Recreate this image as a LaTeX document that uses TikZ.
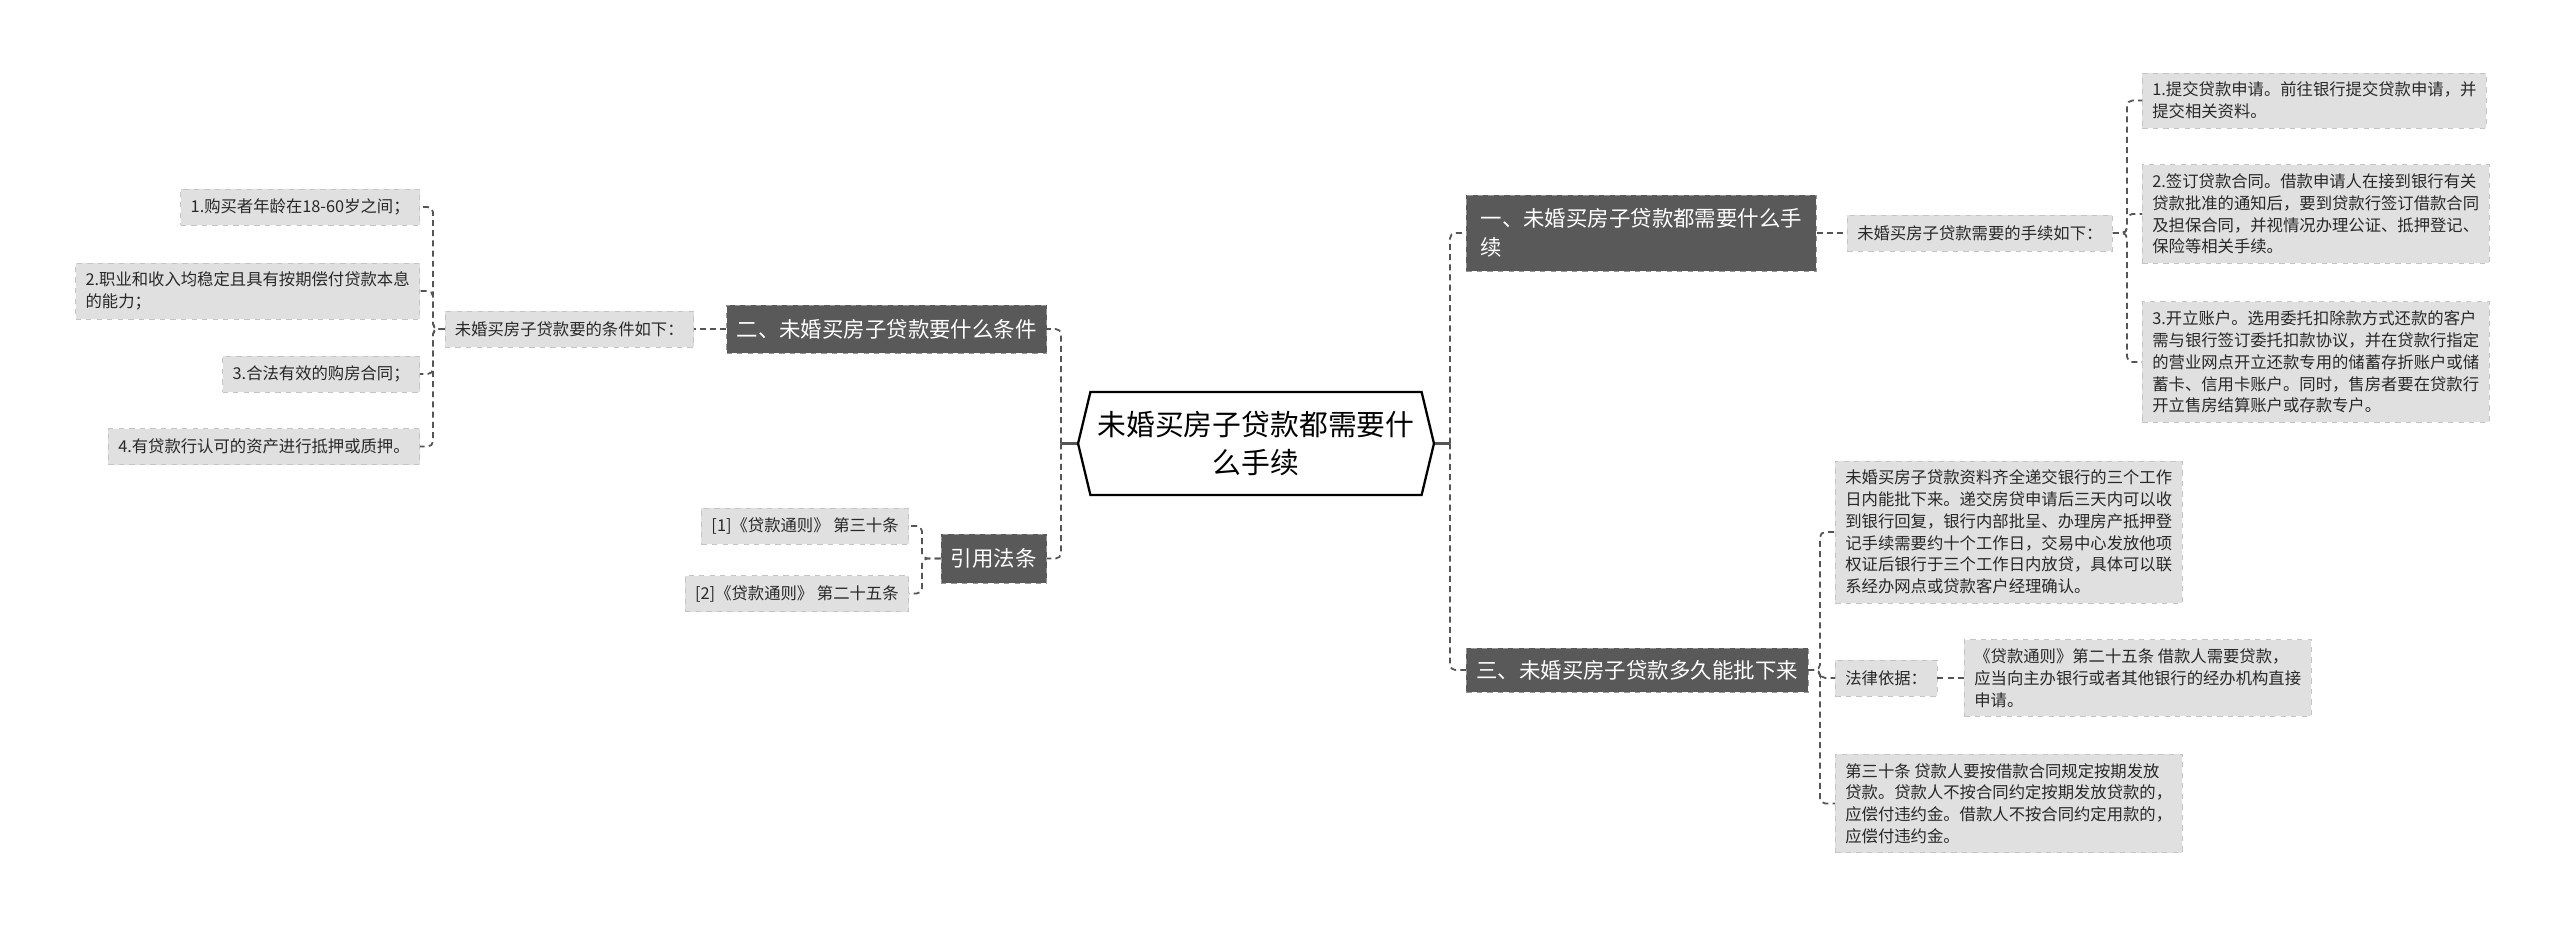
\documentclass[tikz,border=0pt]{standalone}
\usepackage{fontspec}
\setmainfont{Noto Sans CJK SC}
\usetikzlibrary{shapes.symbols}
\definecolor{topicgray}{RGB}{89,89,89}
\definecolor{topicedge}{RGB}{150,150,150}
\definecolor{leafgray}{RGB}{224,224,224}
\definecolor{leafedge}{RGB}{196,196,196}
\definecolor{linkgray}{RGB}{85,85,85}
\definecolor{leaftext}{RGB}{40,40,40}

\begin{document}
\begin{tikzpicture}[x=0.02cm, y=-0.02cm,
    root/.style={signal, signal to=west and east, signal pointer angle=153,
                 draw=black, line width=1.3pt, fill=white,
                 minimum width=7.12cm, minimum height=2.06cm, align=center,
                 font=\fontsize{16.4}{22}\selectfont},
    topic/.style={fill=topicgray, draw=topicedge, dashed, text=white, align=left,
                  inner xsep=0.2cm, inner ysep=0.15cm,
                  font=\fontsize{12.2}{16.7}\selectfont},
    leaf/.style={fill=leafgray, draw=leafedge, dashed, text=leaftext, align=left,
                 inner xsep=0.2cm, inner ysep=0.18cm,
                 font=\fontsize{9.3}{12.4}\selectfont},
    link/.style={draw=linkgray, line width=1pt, dash pattern=on 3.4pt off 2.4pt,
                 rounded corners=3pt},
    stub/.style={draw=linkgray, line width=1.2pt}
  ]
    \fill[white] (0,0) rectangle (2560,927);
    \useasboundingbox (0,0) rectangle (2560,927);

    % centre
    \node[root] (ctr) at (1256,443.5) {未婚买房子贷款都需要什\\么手续};

    % right side
    \node[topic, anchor=west, minimum width=7cm, minimum height=1.52cm] (t1) at (1466,233)
      {一、未婚买房子贷款都需要什么手\\续};
    \node[leaf, anchor=west, minimum height=0.72cm] (h1) at (1847,233) {未婚买房子贷款需要的手续如下：};
    \node[leaf, anchor=west] (p1) at (2142,100.5)
      {1.提交贷款申请。前往银行提交贷款申请，并\\提交相关资料。};
    \node[leaf, anchor=west] (p2) at (2142,214)
      {2.签订贷款合同。借款申请人在接到银行有关\\贷款批准的通知后，要到贷款行签订借款合同\\及担保合同，并视情况办理公证、抵押登记、\\保险等相关手续。};
    \node[leaf, anchor=west] (p3) at (2142,362)
      {3.开立账户。选用委托扣除款方式还款的客户\\需与银行签订委托扣款协议，并在贷款行指定\\的营业网点开立还款专用的储蓄存折账户或储\\蓄卡、信用卡账户。同时，售房者要在贷款行\\开立售房结算账户或存款专户。};

    \node[topic, anchor=west, minimum height=0.88cm] (t3) at (1466,670) {三、未婚买房子贷款多久能批下来};
    \node[leaf, anchor=west] (a1) at (1835,532)
      {未婚买房子贷款资料齐全递交银行的三个工作\\日内能批下来。递交房贷申请后三天内可以收\\到银行回复，银行内部批呈、办理房产抵押登\\记手续需要约十个工作日，交易中心发放他项\\权证后银行于三个工作日内放贷，具体可以联\\系经办网点或贷款客户经理确认。};
    \node[leaf, anchor=west, minimum height=0.72cm] (law) at (1835,678) {法律依据：};
    \node[leaf, anchor=west] (b1) at (1964,678)
      {《贷款通则》第二十五条 借款人需要贷款，\\应当向主办银行或者其他银行的经办机构直接\\申请。};
    \node[leaf, anchor=west] (c1) at (1835,803.5)
      {第三十条 贷款人要按借款合同规定按期发放\\贷款。贷款人不按合同约定按期发放贷款的，\\应偿付违约金。借款人不按合同约定用款的，\\应偿付违约金。};

    % left side
    \node[topic, anchor=east, minimum height=0.96cm] (t2) at (1047,329) {二、未婚买房子贷款要什么条件};
    \node[leaf, anchor=east, minimum height=0.72cm] (cond) at (694,329) {未婚买房子贷款要的条件如下：};
    \node[leaf, anchor=east, minimum height=0.72cm] (l1) at (420,207) {1.购买者年龄在18-60岁之间；};
    \node[leaf, anchor=east] (l2) at (420,291) {2.职业和收入均稳定且具有按期偿付贷款本息\\的能力；};
    \node[leaf, anchor=east, minimum height=0.72cm] (l3) at (420,374) {3.合法有效的购房合同；};
    \node[leaf, anchor=east, minimum height=0.72cm] (l4) at (420,446.5) {4.有贷款行认可的资产进行抵押或质押。};

    \node[topic, anchor=east, minimum height=0.98cm] (cite) at (1047,558.5) {引用法条};
    \node[leaf, anchor=east, minimum height=0.72cm] (r1) at (909,526) {[1]《贷款通则》 第三十条};
    \node[leaf, anchor=east, minimum height=0.72cm] (r2) at (909,593.5) {[2]《贷款通则》 第二十五条};

    % trunk positions
    \coordinate (jr) at (1450,0);
    \coordinate (jp) at (2127,0);
    \coordinate (jt) at (1820,0);
    \coordinate (jl) at (1061,0);
    \coordinate (jc) at (433,0);
    \coordinate (jq) at (922,0);

    % connectors
    \draw[stub] (ctr.east) -- (jr |- ctr.east);
    \draw[stub] (ctr.west) -- (jl |- ctr.west);
    \foreach \n in {t1,t3} \draw[link] (jr |- ctr.east) |- (\n.west);
    \draw[link] (t1.east) -- (h1.west);
    \foreach \n in {p1,p2,p3} \draw[link] (h1.east) -- (jp |- h1.east) |- (\n.west);
    \foreach \n in {a1,law,c1} \draw[link] (t3.east) -- (jt |- t3.east) |- (\n.west);
    \draw[link] (law.east) -- (b1.west);
    \foreach \n in {t2,cite} \draw[link] (jl |- ctr.west) |- (\n.east);
    \draw[link] (t2.west) -- (cond.east);
    \foreach \n in {l1,l2,l3,l4} \draw[link] (cond.west) -- (jc |- cond.west) |- (\n.east);
    \foreach \n in {r1,r2} \draw[link] (cite.west) -- (jq |- cite.west) |- (\n.east);
  \end{tikzpicture}
\end{document}
